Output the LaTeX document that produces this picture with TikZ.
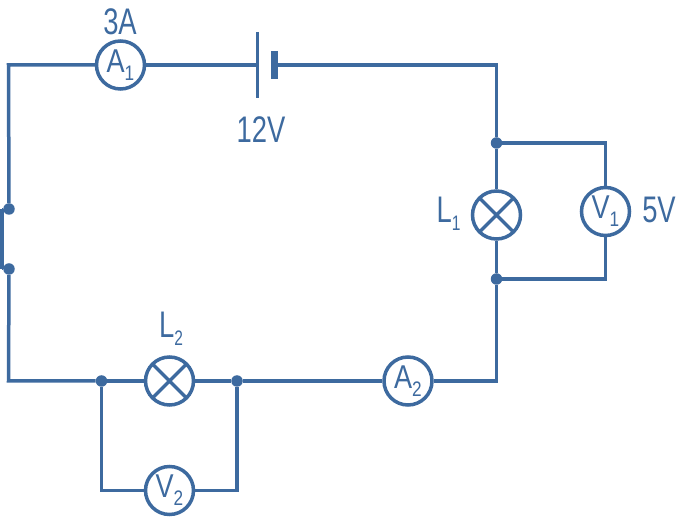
\documentclass[tikz,border=0pt]{standalone}
\usepackage{fontspec}
\setmainfont{Liberation Sans}[FakeStretch=0.74]
\newfontfamily\meterfont{Liberation Sans}[FakeStretch=0.82]
\definecolor{wire}{HTML}{3D6A9F}
\newcommand{\bigtxt}{\fontsize{37}{37}\selectfont}
\newcommand{\midtxt}{\meterfont\fontsize{33}{33}\selectfont}
\newcommand{\lowtxt}[1]{\raisebox{-8pt}{\fontsize{21}{21}\selectfont #1}}
\tikzset{
  wireline/.style={draw=wire,line width=3.5pt,line join=miter},
  meter/.style={circle,draw=wire,line width=3.5pt,fill=white,minimum size=48pt,inner sep=0pt,text=wire},
  lamp/.style={meter,path picture={
     \draw[wire,line width=3.5pt] (path picture bounding box.south west)--(path picture bounding box.north east)
       (path picture bounding box.north west)--(path picture bounding box.south east);}},
  joint/.style={circle,fill=wire,inner sep=0pt,minimum size=11.5pt},
  caption/.style={text=wire,inner sep=0pt,font=\bigtxt},
}
\begin{document}
\begin{tikzpicture}[x=1pt,y=-1pt]
\useasboundingbox (0,0) rectangle (678,518);
% corners
\coordinate (tl) at (8.5,65);
\coordinate (tr) at (496.5,65);
\coordinate (bl) at (8.5,381);
\coordinate (br) at (496.5,381);
\coordinate (vtr) at (605.5,143);
\coordinate (vbr) at (605.5,279);
\coordinate (vbl) at (101.5,490.5);
\coordinate (vbm) at (237,490.5);
\coordinate (barT) at (2,209);
\coordinate (barB) at (2,269);
\coordinate (plateLT) at (257.5,32);
\coordinate (plateLB) at (257.5,98);
\coordinate (plateL) at (257.5,65);
\coordinate (plateST) at (274.5,51);
\coordinate (plateSB) at (274.5,79);
% joints
\node[joint] (j1) at (496.5,143) {};
\node[joint] (j2) at (496.5,279) {};
\node[joint] (j3) at (9,209) {};
\node[joint] (j4) at (9,269) {};
\node[joint] (j5) at (101.5,381) {};
\node[joint] (j6) at (237,381) {};
% instruments
\node[meter] (A1) at (120.5,65) {\midtxt A\lowtxt{1}};
\node[meter] (A2) at (408,381) {\midtxt A\lowtxt{2}};
\node[meter] (V1) at (605.5,211.5) {\midtxt V\lowtxt{1}};
\node[meter] (V2) at (169.5,490.5) {\midtxt V\lowtxt{2}};
\node[lamp] (L1) at (496.5,215) {};
\node[lamp] (L2) at (169.5,381) {};
% wires
\draw[wireline] (j3) -- (tl) -- (A1);
\draw[wireline] (A1) -- (plateL);
\draw[wireline] (plateLT) -- (plateLB);
\draw[draw=wire,line width=7pt] (plateST) -- (plateSB);
\draw[wireline] (plateST |- plateL) -- (tr) -- (j1);
\draw[wireline] (j1) -- (L1);
\draw[wireline] (L1) -- (j2);
\draw[wireline] (j1) -- (vtr) -- (V1);
\draw[wireline] (V1) -- (vbr) -- (j2);
\draw[wireline] (j2) -- (br) -- (A2);
\draw[wireline] (A2) -- (j6);
\draw[wireline] (j6) -- (L2);
\draw[wireline] (L2) -- (j5);
\draw[wireline] (j5) -- (bl) -- (j4);
\draw[wireline] (j5) -- (vbl) -- (V2);
\draw[wireline] (V2) -- (vbm) -- (j6);
\draw[draw=wire,line width=4pt] (barT) -- (barB);
\draw[draw=wire,line width=2pt] (barT) -- (j3);
\draw[draw=wire,line width=2pt] (barB) -- (j4);
% labels
\node[caption] (t3A) at (120,22) {3A};
\node[caption] (t12V) at (261,130) {12V};
\node[caption] (t5V) at (659,210) {5V};
\node[caption] (tL1) at (448.5,214) {L\lowtxt{1}};
\node[caption] (tL2) at (171,329) {L\lowtxt{2}};
\end{tikzpicture}
\end{document}
